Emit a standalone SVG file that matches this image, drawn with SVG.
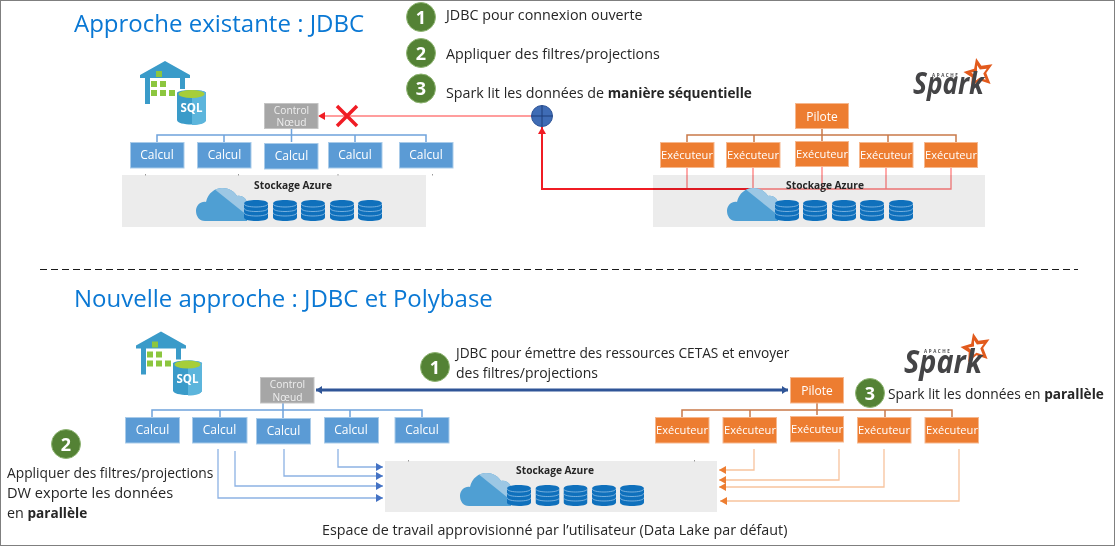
<svg xmlns="http://www.w3.org/2000/svg" width="1115" height="546" viewBox="0 0 1115 546">
<style>
text{font-family:"Open Sans","Noto Sans","Liberation Sans",sans-serif;fill:#262626}
.title{font-size:24px;fill:#0a78d4}
.t{font-size:14.3px}
.s{font-size:13.8px}
.b{font-weight:700;font-size:13.6px}
.calc rect{fill:#5b9bd5;stroke:#a9cbe9;stroke-width:1}
.exec rect,.pil rect{fill:#ed7d31;stroke:#f6b88f;stroke-width:1}
.ctrl rect{fill:#a6a6a6;stroke:#c4c4c4;stroke-width:1}
.calc text,.pil text{font-size:12px;fill:#fff;text-anchor:middle}
.exec text{font-size:11.1px;fill:#fff;text-anchor:middle}
.ctrl text{font-size:10.2px;fill:#eee;text-anchor:middle}
.stor rect{fill:#ececec}
.stor text{font-size:10.2px;font-weight:700;text-anchor:middle}
.stor path{stroke:#999;stroke-width:1;fill:none}
.num circle{fill:#548235;stroke:#8fb573;stroke-width:1}
.num text{font-size:18px;font-weight:700;fill:#fff;text-anchor:middle}
.word{font-size:30px;font-style:italic;font-weight:700;fill:#444446}
.apa{font-size:4.5px;font-weight:700;fill:#4b4b4d;letter-spacing:1.6px}
.sqlt{font-size:11.5px;font-weight:700;fill:#fff;text-anchor:middle}
.line{fill:none}
.bb{stroke:#6fa3dc;stroke-width:1.5}
.ob{stroke:#c9794a;stroke-width:1.5}
.red{stroke:#ff7d7d;stroke-width:1.3}
.redk{stroke:#f01c24;stroke-width:2}
.bl{stroke:#8db2e4;stroke-width:1.3;marker-end:url(#ab)}
.or{stroke:#f8c39d;stroke-width:1.3;marker-end:url(#ao)}
</style>
<defs>
<marker id="ab" markerUnits="userSpaceOnUse" markerWidth="8" markerHeight="8" refX="7" refY="4" orient="auto"><path d="M0 0L7 4L0 8Z" fill="#4472c4"/></marker>
<marker id="ao" markerUnits="userSpaceOnUse" markerWidth="8" markerHeight="8" refX="7" refY="4" orient="auto"><path d="M0 0L7 4L0 8Z" fill="#ed7d31"/></marker>
<marker id="ar" markerUnits="userSpaceOnUse" markerWidth="8" markerHeight="8" refX="7" refY="4" orient="auto"><path d="M0 0L7 4L0 8Z" fill="#f01c24"/></marker>
<marker id="an" markerUnits="userSpaceOnUse" markerWidth="7" markerHeight="8" refX="6" refY="4" orient="auto"><path d="M0 0L6 4L0 8Z" fill="#2f5597"/></marker>
<marker id="ans" markerUnits="userSpaceOnUse" markerWidth="7" markerHeight="8" refX="0" refY="4" orient="auto"><path d="M6 0L0 4L6 8Z" fill="#2f5597"/></marker>
<clipPath id="cd"><path d="M17 0H52V28Z"/></clipPath>
<symbol id="cloud" width="52" height="33" viewBox="0 0 52 33" overflow="visible">
<path d="M9 33C3 33 0 28 0 23C0 17 5 13 10 14C12 5 19 0 26 0C33 0 38 3 41 8C47 7 51 11 51 16V33Z" fill="#4f9fd3"/>
<path d="M9 33C3 33 0 28 0 23C0 17 5 13 10 14C12 5 19 0 26 0C33 0 38 3 41 8C47 7 51 11 51 16V33Z" fill="#9cc7e4" clip-path="url(#cd)"/>
</symbol>
<symbol id="disk" width="24" height="21" viewBox="0 0 24 21">
<path d="M0 3.500C0 1 6 0 12 0S24 1 24 3.500V17.500C24 20 18 21 12 21S0 20 0 17.500Z" fill="#0f70bc"/>
<path d="M0 3.500C0 6 6 7 12 7S24 6 24 3.500M0 8C0 10.500 6 11.500 12 11.500S24 10.500 24 8M0 12.500C0 15 6 16 12 16S24 15 24 12.500" fill="none" stroke="#8fbfe6" stroke-width=".8"/>
</symbol>
<symbol id="wh" width="70" height="66" viewBox="0 0 70 66" overflow="visible">
<path d="M25 1L0 15V18H5V44H10V18H40V29H45V18H50V15Z" fill="#3a9bc9"/>
<path d="M16 11h6v6h-6zM11 21h6v6h-6zM20 21h6v6h-6zM11 30h6v6h-6zM20 30h6v6h-6zM29 30h6v6h-6z" fill="#8cc63f"/>
<path d="M37 33C37 29 66 29 66 33V60C66 66 37 66 37 60Z" fill="#3a9bc9"/>
<path d="M52 30C60 30 66 31 66 33V60C66 63 60 65 52 65Z" fill="#5cb5dc"/>
<ellipse cx="51.500" cy="34" rx="13" ry="4" fill="#a6ce39"/>
</symbol>
<symbol id="star" viewBox="0 0 30 30"><path d="M13 0L18.500 8L30 6.500L23.500 15.500L28 27L16.500 23L8 30L8.500 20L0 14.500L11 11ZM14 7.500L14 14L8 15L12.500 18.500L12.500 23.500L16.500 20.500L23 22.500L20.500 16L24 11L17 12Z" fill="#e25a1c" fill-rule="evenodd"/></symbol>
</defs>
<rect x="0.500" y="0.500" width="1114" height="545" fill="#fff" stroke="#7f7f7f"/>
<text class="title" x="74" y="32">Approche existante : JDBC</text>
<line x1="40" y1="269.500" x2="1078" y2="269.500" stroke="#1a1a1a" stroke-width="1" stroke-dasharray="7 4"/>
<text class="title" x="74" y="307">Nouvelle approche : JDBC et Polybase</text>
<g id="connectors">
<path class="line bb" d="M157 142V135H426V142M224 135V142M291.500 129V142M355 135V142"/>
<path class="line ob" d="M687 142V135H956V142M754 135V142M822 129V142M888 135V142"/>
<path class="line red" d="M687 167V189H951V167M753 167V189M822 167V189M886 167V189"/>
<path class="line redk" d="M753 189H542V127" marker-end="url(#ar)"/>
<path class="line red" d="M532 116H320"/>
<path d="M318 116L325 112V120Z" fill="#f01c24"/>
<path class="line bb" d="M152 417V410H422V417M220 410V417M283 403V418M350 410V417"/>
<path class="line ob" d="M682 417V410H952V417M750 410V417M817 403V415M885 410V417"/>
<path d="M316 390H788" fill="none" stroke="#2f5597" stroke-width="3" marker-start="url(#ans)" marker-end="url(#an)"/>
<path class="line bl" d="M338 449V467H383"/>
<path class="line bl" d="M284 449V476H383"/>
<path class="line bl" d="M235 451V486H383"/>
<path class="line bl" d="M218 449V498H383"/>
<path class="line or" d="M754 449V470H719"/>
<path class="line or" d="M839 449V480H719"/>
<path class="line or" d="M884 449V487H719"/>
<path class="line or" d="M959 449V501H720"/>
</g>
<g id="top-sql"><use href="#wh" x="140" y="60"/><text class="sqlt" x="191.500" y="112">SQL</text></g>
<g id="top-control" class="ctrl"><rect x="264.500" y="103.500" width="53.500" height="25"/><text x="291.500" y="113.500">Control</text><text x="291.500" y="126">Nœud</text></g>
<g id="top-c1" class="calc"><rect x="130.500" y="142.500" width="53.500" height="25.500"/><text x="157" y="159">Calcul</text></g>
<g id="top-c2" class="calc"><rect x="197.500" y="142.500" width="53.500" height="25.500"/><text x="224.500" y="159">Calcul</text></g>
<g id="top-c3" class="calc"><rect x="264.500" y="143.500" width="53.500" height="25.500"/><text x="291.500" y="160">Calcul</text></g>
<g id="top-c4" class="calc"><rect x="328.500" y="142.500" width="53.500" height="25.500"/><text x="355" y="159">Calcul</text></g>
<g id="top-c5" class="calc"><rect x="399.500" y="142.500" width="53.500" height="25.500"/><text x="426" y="159">Calcul</text></g>
<g id="top-storage-l" class="stor"><rect x="122" y="175" width="304" height="52"/><path d="M145.500 174V175.500M238.500 174V175.500M338 174V175.500M432.500 174V175.500"/><text x="293" y="189">Stockage Azure</text><use href="#cloud" x="196" y="188"/><use href="#disk" x="244" y="200"/><use href="#disk" x="273" y="200"/><use href="#disk" x="301" y="200"/><use href="#disk" x="330" y="200"/><use href="#disk" x="358" y="200"/></g>
<g id="top-x"><path d="M337 106L357 126M357 106L337 126" stroke="#f01c24" stroke-width="3.500" fill="none"/></g>
<g id="top-join"><circle cx="542" cy="116" r="10.500" fill="#3f6cb5" stroke="#2f5597"/><path d="M531.500 116H552.500M542 105.500V126.500" stroke="#1f3f7a" stroke-width="1"/></g>
<g id="top-pilote" class="pil"><rect x="795.500" y="103.500" width="53" height="25"/><text x="822" y="120.500">Pilote</text></g>
<g id="top-e1" class="exec"><rect x="660.500" y="142.500" width="53.500" height="25"/><text x="687" y="159">Exécuteur</text></g>
<g id="top-e2" class="exec"><rect x="726.500" y="142.500" width="53.500" height="25"/><text x="753" y="159">Exécuteur</text></g>
<g id="top-e3" class="exec"><rect x="795.500" y="141.500" width="53" height="25"/><text x="822" y="158">Exécuteur</text></g>
<g id="top-e4" class="exec"><rect x="859.500" y="142.500" width="53.500" height="25"/><text x="886" y="159">Exécuteur</text></g>
<g id="top-e5" class="exec"><rect x="924.500" y="142.500" width="53" height="25"/><text x="951" y="159">Exécuteur</text></g>
<g id="top-storage-r" class="stor"><rect x="653" y="175" width="332" height="52" style="mix-blend-mode:multiply"/><use href="#cloud" x="727" y="188"/><use href="#disk" x="775" y="200"/><use href="#disk" x="803" y="200"/><use href="#disk" x="832" y="200"/><use href="#disk" x="860" y="200"/><use href="#disk" x="889" y="200"/><text x="825" y="189">Stockage Azure</text></g>
<g id="top-spark"><use href="#star" x="963" y="58" width="30" height="29"/><text class="apa" x="932" y="77">APACHE</text><text class="word" x="913" y="94" textLength="71" lengthAdjust="spacingAndGlyphs">Spark</text></g>
<g id="top-n1" class="num"><circle cx="421" cy="17" r="14.500"/><text x="421" y="23.500">1</text></g>
<g id="top-n2" class="num"><circle cx="421" cy="53" r="14.500"/><text x="421" y="59.500">2</text></g>
<g id="top-n3" class="num"><circle cx="421" cy="88.500" r="14.500"/><text x="421" y="95">3</text></g>
<text class="t" x="446" y="20">JDBC pour connexion ouverte</text>
<text class="t" x="446" y="59">Appliquer des filtres/projections</text>
<text class="t" x="446" y="98">Spark lit les données de <tspan class="b">manière séquentielle</tspan></text>
<g id="bot-sql"><use href="#wh" x="136" y="330.500"/><text class="sqlt" x="187.500" y="382.500">SQL</text></g>
<g id="bot-control" class="ctrl"><rect x="260.500" y="377.500" width="53.500" height="25.500"/><text x="287.500" y="387.500">Control</text><text x="287.500" y="401">Nœud</text></g>
<g id="bot-c1" class="calc"><rect x="125.500" y="417.500" width="54" height="25.500"/><text x="152.500" y="434">Calcul</text></g>
<g id="bot-c2" class="calc"><rect x="192.500" y="417.500" width="54.500" height="25.500"/><text x="219.500" y="434">Calcul</text></g>
<g id="bot-c3" class="calc"><rect x="256.500" y="418.500" width="54" height="25.500"/><text x="283.500" y="435">Calcul</text></g>
<g id="bot-c4" class="calc"><rect x="324.500" y="417.500" width="54" height="25.500"/><text x="351" y="434">Calcul</text></g>
<g id="bot-c5" class="calc"><rect x="395" y="417.500" width="54" height="25.500"/><text x="422" y="434">Calcul</text></g>
<g id="bot-storage" class="stor"><rect x="385" y="461" width="332" height="51"/><path d="M408.500 460V461.500M694.500 460V461.500"/><text x="555" y="474">Stockage Azure</text><use href="#cloud" x="460" y="473"/><use href="#disk" x="507" y="485"/><use href="#disk" x="535.500" y="485"/><use href="#disk" x="563.500" y="485"/><use href="#disk" x="592" y="485"/><use href="#disk" x="620" y="485"/></g>
<g id="bot-pilote" class="pil"><rect x="790.500" y="377.500" width="53" height="25.500"/><text x="817" y="395">Pilote</text></g>
<g id="bot-e1" class="exec"><rect x="655.500" y="417.500" width="53.500" height="25.500"/><text x="682" y="434">Exécuteur</text></g>
<g id="bot-e2" class="exec"><rect x="723" y="417.500" width="53.500" height="25.500"/><text x="750" y="434">Exécuteur</text></g>
<g id="bot-e3" class="exec"><rect x="790.500" y="416.500" width="53" height="25.500"/><text x="817" y="433">Exécuteur</text></g>
<g id="bot-e4" class="exec"><rect x="857.500" y="417.500" width="53.500" height="25.500"/><text x="884" y="434">Exécuteur</text></g>
<g id="bot-e5" class="exec"><rect x="925" y="417.500" width="53.500" height="25.500"/><text x="952" y="434">Exécuteur</text></g>
<g id="bot-spark"><use href="#star" x="958" y="333" width="34" height="29"/><text class="apa" x="924" y="353">APACHE</text><text class="word" x="904" y="373" style="font-size:33px" textLength="78" lengthAdjust="spacingAndGlyphs">Spark</text></g>
<g id="bot-n1" class="num"><circle cx="435" cy="367" r="14.500"/><text x="435" y="373.500">1</text></g>
<g id="bot-n2" class="num"><circle cx="66" cy="444" r="14.500"/><text x="66" y="450.500">2</text></g>
<g id="bot-n3" class="num"><circle cx="870" cy="393" r="14.500"/><text x="870" y="399.500">3</text></g>
<text class="t" x="456" y="358" style="font-size:13.7px">JDBC pour émettre des ressources CETAS et envoyer</text>
<text class="t" x="456" y="378" style="font-size:14px">des filtres/projections</text>
<text class="t" x="888" y="399" style="font-size:13.8px">Spark lit les données en <tspan class="b">parallèle</tspan></text>
<text class="t" x="7" y="478" style="font-size:13.8px">Appliquer des filtres/projections</text>
<text class="t" x="7" y="498" style="font-size:14.6px">DW exporte les données</text>
<text class="t" x="7" y="518">en <tspan class="b">parallèle</tspan></text>
<text class="t" x="322" y="535">Espace de travail approvisionné par l’utilisateur (Data Lake par défaut)</text>
</svg>
